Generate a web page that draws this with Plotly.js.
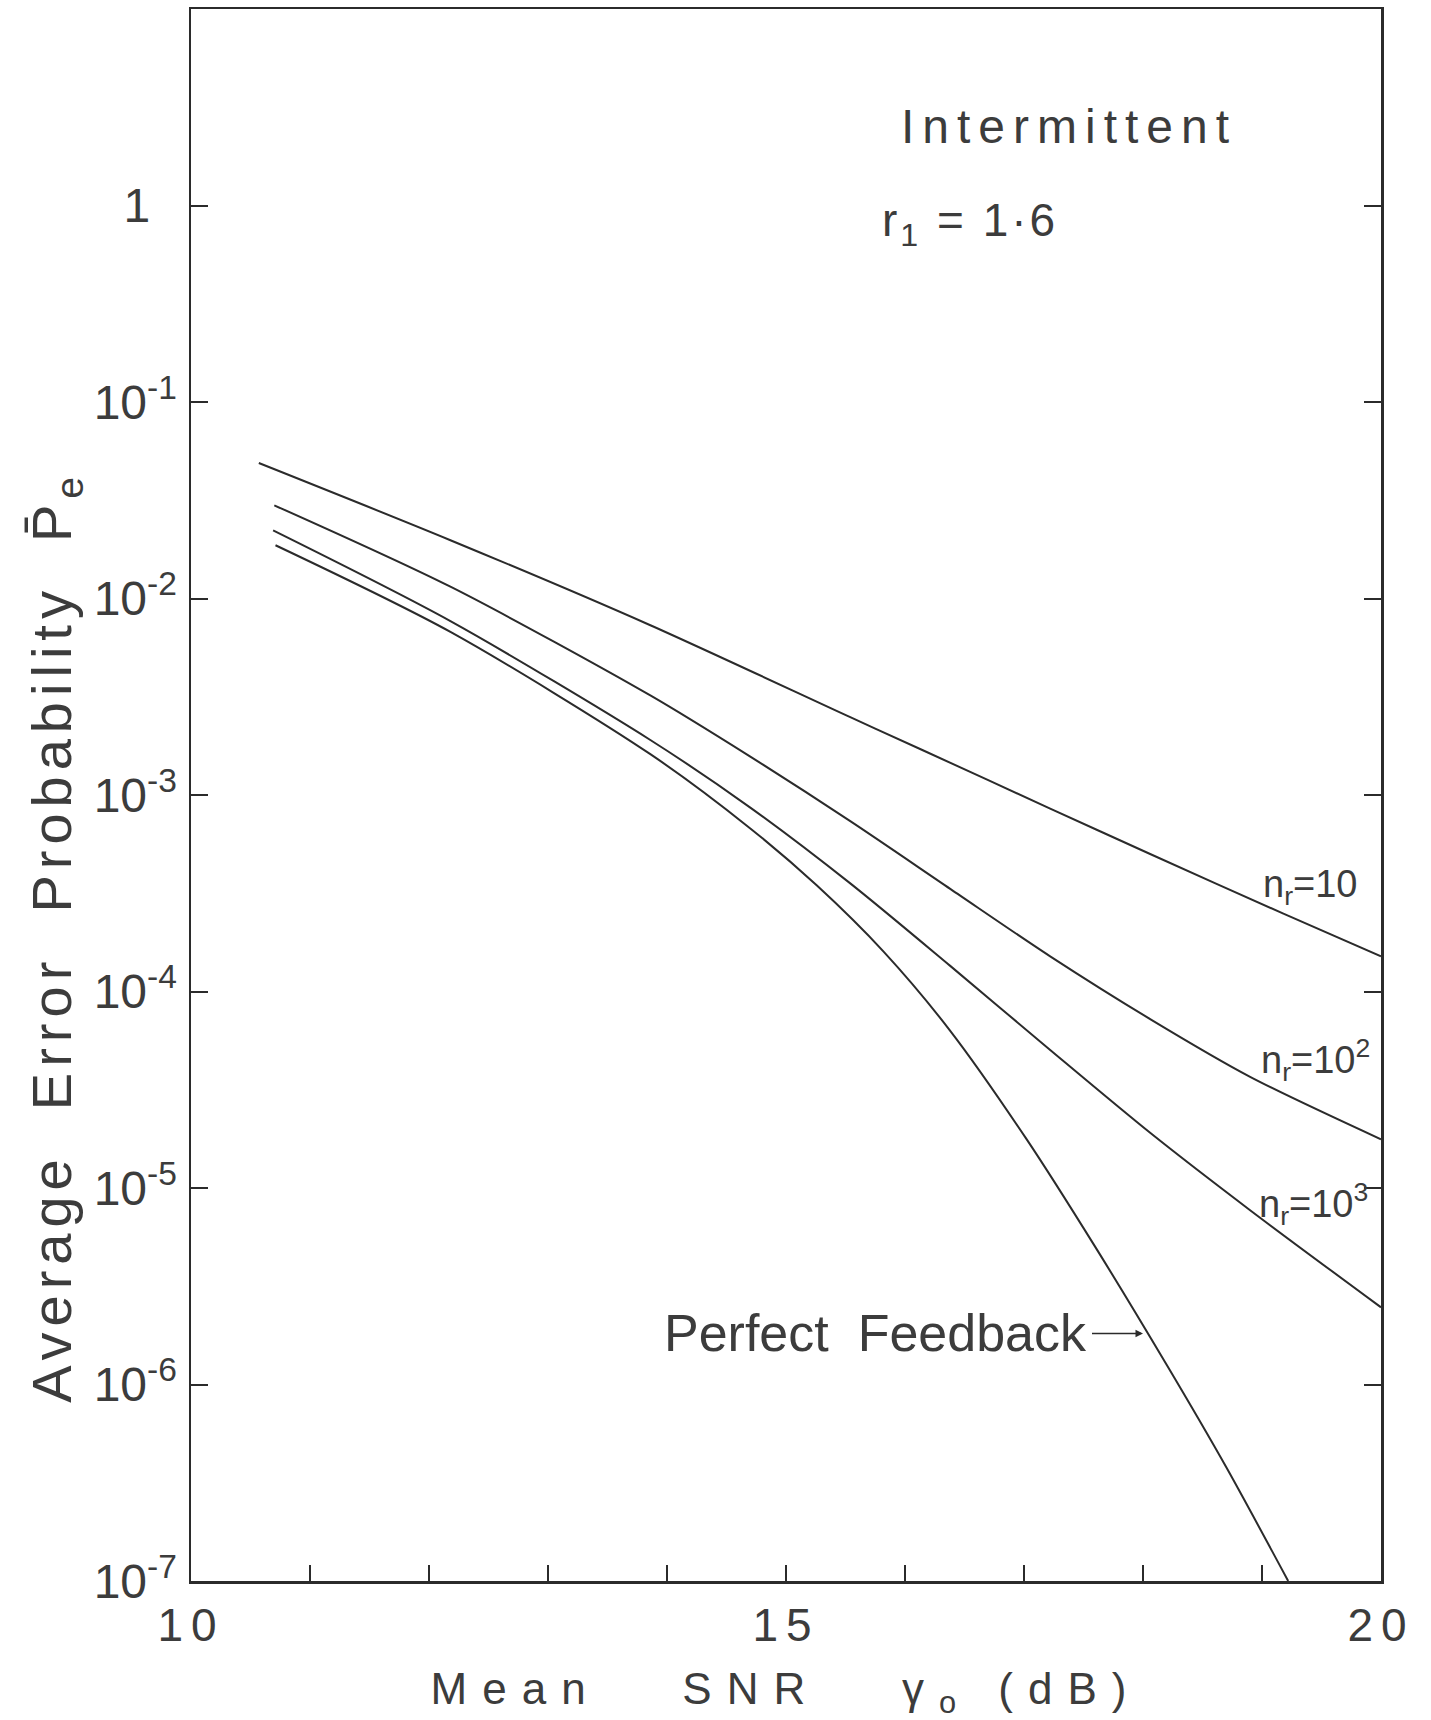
<!DOCTYPE html>
<html>
<head>
<meta charset="utf-8">
<script src="https://cdn.plot.ly/plotly-3.0.1.min.js"></script>
<style>
html, body { margin: 0; padding: 0; background: #ffffff; }
.xtitle { letter-spacing: 15px; }
.xtick text { letter-spacing: 8px; }
g.annotation[data-index="0"] text { letter-spacing: 6px; }
g.annotation[data-index="1"] text { letter-spacing: 8px; }
g.annotation[data-index="2"] text { letter-spacing: 3px; }
</style>
</head>
<body>
<div id="chart" style="width:1431px;height:1720px;"></div>
<script>
// Mean SNR (dB) and average error probability
const snr_n10   = [10.57, 12.18, 13.86, 15.54, 16.15, 17.22, 18.06, 19.18, 20.0];
const pe_n10    = [4.89e-2, 1.98e-2, 7.31e-3, 2.49e-3, 1.69e-3, 8.53e-4, 5.01e-4, 2.49e-4, 1.51e-4];

const snr_n100  = [10.70, 12.18, 13.86, 14.70, 15.54, 16.38, 17.22, 18.06, 18.90, 20.0];
const pe_n100   = [2.98e-2, 1.148e-2, 3.21e-3, 1.567e-3, 7.36e-4, 3.33e-4, 1.51e-4, 7.24e-5, 3.68e-5, 1.77e-5];

const snr_n1000 = [10.69, 12.18, 13.86, 14.70, 15.54, 16.38, 17.22, 18.06, 18.90, 20.0];
const pe_n1000  = [2.22e-2, 7.67e-3, 1.905e-3, 8.63e-4, 3.55e-4, 1.35e-4, 5.04e-5, 1.91e-5, 7.71e-6, 2.47e-6];

const snr_pf    = [10.71, 12.18, 13.86, 14.70, 15.26, 15.82, 16.38, 17.02, 17.60, 18.20, 18.70, 19.22];
const pe_pf     = [1.866e-2, 6.76e-3, 1.614e-3, 6.76e-4, 3.46e-4, 1.596e-4, 6.31e-5, 1.778e-5, 5.00e-6, 1.256e-6, 3.79e-7, 1.0e-7];

// Axis ticks
const xTickVals  = [10, 15, 20];
const xTickText  = ['10', '15', '20'];
const xMinorVals = [11, 12, 13, 14, 16, 17, 18, 19];
const yTickVals  = [1, 1e-1, 1e-2, 1e-3, 1e-4, 1e-5, 1e-6, 1e-7];
const yTickText  = ['1\u00a0\u00a0', '10<sup>-1</sup>', '10<sup>-2</sup>', '10<sup>-3</sup>',
                    '10<sup>-4</sup>', '10<sup>-5</sup>', '10<sup>-6</sup>', '10<sup>-7</sup>'];

// Curve labels
const seriesNames = ['n<sub>r</sub>=10', 'n<sub>r</sub>=10<sup>2</sup>', 'n<sub>r</sub>=10<sup>3</sup>', 'Perfect Feedback'];

const ink = '#2b2b2b';
const textInk = '#3c3c3c';
const FONT = 'Liberation Sans, Arial, sans-serif';

function curve(x, y, name) {
  return {
    x: x, y: y, name: name, type: 'scatter', mode: 'lines',
    line: { color: ink, width: 2, shape: 'spline', smoothing: 0.8 },
    hoverinfo: 'x+y+name', showlegend: false
  };
}

const data = [
  curve(snr_n10, pe_n10, seriesNames[0]),
  curve(snr_n100, pe_n100, seriesNames[1]),
  curve(snr_n1000, pe_n1000, seriesNames[2]),
  curve(snr_pf, pe_pf, seriesNames[3])
];

const layout = {
  width: 1431, height: 1720,
  margin: { l: 191, r: 50, t: 9, b: 139 },
  paper_bgcolor: '#ffffff', plot_bgcolor: '#ffffff',
  font: { family: FONT, color: textInk },
  showlegend: false,
  xaxis: {
    range: [10, 20], autorange: false,
    tickmode: 'array', tickvals: xTickVals, ticktext: xTickText,
    ticks: 'inside', ticklen: 16, tickwidth: 2, tickcolor: ink,
    minor: { tickmode: 'array', tickvals: xMinorVals, ticks: 'inside', ticklen: 16, tickwidth: 2, tickcolor: ink, showgrid: false },
    showline: true, linecolor: ink, linewidth: 2.5, mirror: true,
    showgrid: false, zeroline: false,
    tickfont: { family: FONT, size: 46, color: textInk },
    ticklabelstandoff: 2,
    title: { text: 'Mean   SNR   \u03b3<sub>o</sub> (dB)', font: { family: FONT, size: 44, color: textInk }, standoff: 30 }
  },
  yaxis: {
    type: 'log', range: [-7, 1], autorange: false,
    tickmode: 'array', tickvals: yTickVals, ticktext: yTickText,
    ticks: 'inside', ticklen: 17, tickwidth: 2, tickcolor: ink,
    showline: true, linecolor: ink, linewidth: 2.5, mirror: 'ticks',
    showgrid: false, zeroline: false,
    tickfont: { family: FONT, size: 48, color: textInk },
    ticklabelstandoff: 2
  },
  annotations: [
    { xref: 'paper', yref: 'paper', x: -0.114, y: 0.41, xanchor: 'center', yanchor: 'middle',
      textangle: -90, showarrow: false,
      text: 'Average  Error  Probability  P\u0304<sub>e</sub>',
      font: { family: FONT, size: 56, color: textInk } },
    { x: 17.38, y: 0.40, xanchor: 'center', yanchor: 'middle', showarrow: false,
      text: 'Intermittent', font: { family: FONT, size: 48, color: textInk } },
    { x: 16.55, y: -0.09, xanchor: 'center', yanchor: 'middle', showarrow: false,
      text: 'r<sub>1</sub> = 1\u00b76', font: { family: FONT, size: 46, color: textInk } },
    { x: 19.40, y: -3.47, xanchor: 'center', yanchor: 'middle', showarrow: false,
      text: seriesNames[0], font: { family: FONT, size: 38, color: textInk } },
    { x: 19.45, y: -4.35, xanchor: 'center', yanchor: 'middle', showarrow: false,
      text: seriesNames[1], font: { family: FONT, size: 38, color: textInk } },
    { x: 19.43, y: -5.08, xanchor: 'center', yanchor: 'middle', showarrow: false,
      text: seriesNames[2], font: { family: FONT, size: 38, color: textInk } },
    { x: 18.0, y: -5.74, xanchor: 'center', yanchor: 'middle',
      showarrow: true, ax: -268, ay: 0, arrowhead: 2, arrowsize: 1, arrowwidth: 1.5, arrowcolor: ink,
      standoff: 0, startstandoff: 4,
      text: 'Perfect  Feedback', font: { family: FONT, size: 52, color: textInk } }
  ]
};

Plotly.newPlot('chart', data, layout, { displayModeBar: false, staticPlot: true });
</script>
</body>
</html>
